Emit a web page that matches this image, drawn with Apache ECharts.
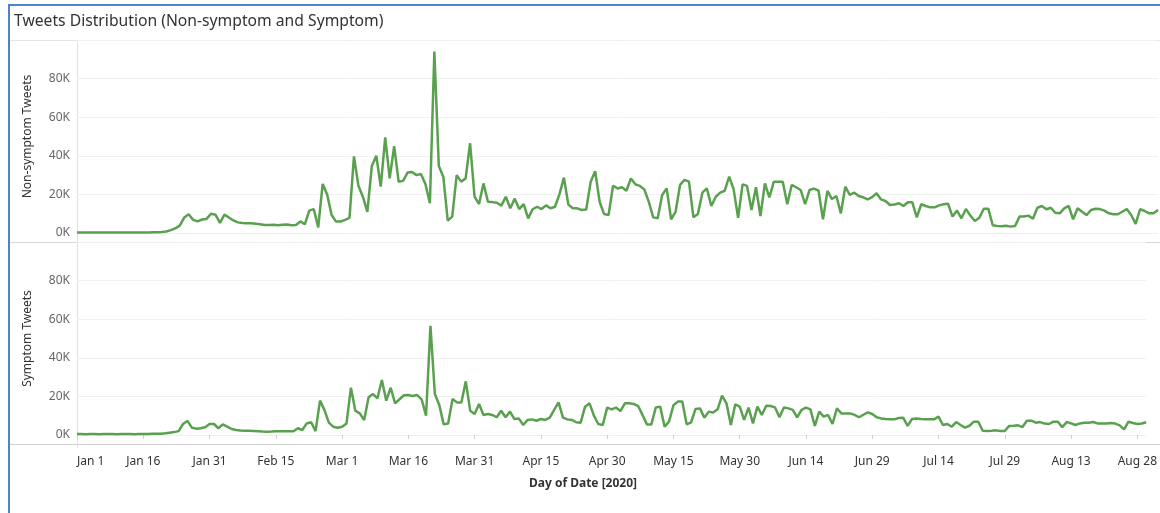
<!DOCTYPE html>
<html>
<head>
<meta charset="utf-8">
<title>Tweets Distribution</title>
<script src="https://cdn.jsdelivr.net/npm/echarts@6/dist/echarts.min.js"></script>
<style>
  html, body { margin: 0; padding: 0; background: #fff; }
  #chart { width: 1160px; height: 513px; }
</style>
</head>
<body>
<div id="chart"></div>
<script>
// daily tweet counts in thousands, starting Jan 1 2020
const nonSymptom = [
  0.3, 0.3, 0.2, 0.3, 0.3, 0.2, 0.3, 0.3, 0.3, 0.2, 0.3, 0.3, 0.3, 0.2, 0.3, 0.3, 0.3, 0.4, 0.4, 0.5,
  0.8, 1.5, 2.4, 3.8, 8.0, 9.7, 6.8, 6.0, 7.0, 7.3,
  10.0, 9.5, 5.2, 9.5, 8.0, 6.5, 5.5, 5.2, 5.0, 5.1,
  4.8, 4.5, 4.2, 4.2, 4.3, 4.0, 4.3, 4.4, 4.0, 4.2,
  6.0, 4.5, 11.6, 12.4, 2.9, 25.4, 20.0, 9.3, 5.9, 5.9,
  6.8, 7.8, 39.7, 24.5, 18.8, 11.0, 34.7, 40.0, 24.0, 49.6,
  28.3, 45.0, 26.6, 27.0, 31.3, 31.6, 30.0, 30.6, 25.4, 15.4,
  94.0, 34.7, 29.2, 6.4, 8.5, 30.0, 26.6, 28.3, 46.5, 18.8,
  15.0, 25.7, 16.2, 16.0, 15.7, 14.2, 18.8, 12.8, 17.8, 12.4,
  15.0, 7.6, 12.3, 13.6, 12.4, 14.3, 12.8, 13.6, 20.0, 28.7,
  14.7, 12.8, 12.8, 11.9, 12.2, 26.6, 32.0, 16.2, 9.8, 9.3,
  24.5, 23.1, 23.7, 21.9, 28.3, 25.2, 24.4, 22.6, 16.2, 8.1,
  7.6, 19.7, 23.1, 7.1, 11.0, 24.9, 27.5, 26.6, 8.1, 9.8,
  20.9, 23.1, 14.0, 18.8, 20.9, 21.9, 29.2, 22.6, 7.9, 25.2,
  24.4, 11.9, 23.7, 8.8, 25.7, 18.5, 26.6, 26.6, 26.6, 14.9,
  24.9, 23.7, 22.3, 14.9, 22.3, 23.0, 21.9, 7.1, 21.8, 17.6,
  19.2, 10.2, 24.0, 19.7, 20.9, 19.2, 18.5, 17.4, 18.6, 20.6,
  17.4, 16.6, 14.5, 14.8, 15.4, 14.0, 15.9, 15.9, 8.1, 14.9,
  14.0, 13.3, 13.3, 14.3, 14.9, 15.2, 8.5, 11.6, 7.6, 12.4,
  9.0, 6.2, 7.9, 12.6, 12.6, 4.0, 3.6, 3.5, 3.8, 3.3,
  3.6, 8.5, 8.5, 9.0, 7.4, 13.1, 14.0, 12.3, 13.1, 10.5,
  10.2, 12.8, 14.0, 7.1, 12.8, 11.0, 9.3, 11.9, 12.6, 12.4,
  11.6, 10.2, 9.7, 9.7, 11.0, 12.4, 9.3, 4.7, 12.4, 11.4,
  10.2, 10.2, 11.9
];

const symptom = [
  0.5, 0.5, 0.4, 0.5, 0.5, 0.4, 0.5, 0.5, 0.5, 0.4, 0.5, 0.5, 0.5, 0.4, 0.5, 0.5, 0.5, 0.6, 0.6, 0.7,
  0.9, 1.2, 1.5, 2.0, 5.7, 7.3, 3.8, 3.3, 3.5, 4.0,
  5.7, 5.7, 3.5, 5.5, 4.3, 3.1, 2.6, 2.3, 2.2, 2.2,
  2.1, 2.0, 1.8, 1.7, 1.8, 2.0, 1.9, 2.0, 1.9, 1.9,
  3.5, 2.6, 6.0, 6.6, 2.0, 17.8, 13.0, 6.4, 4.3, 3.8,
  4.3, 6.0, 24.5, 12.6, 11.2, 7.8, 19.5, 21.2, 19.0, 28.5,
  17.8, 24.5, 16.4, 18.5, 20.6, 20.7, 20.2, 20.7, 18.5, 10.0,
  56.6, 21.2, 15.5, 5.5, 6.0, 18.7, 16.9, 16.9, 27.8, 12.6,
  10.9, 16.1, 10.4, 10.9, 10.4, 9.2, 12.6, 9.2, 12.1, 8.3,
  8.6, 5.2, 7.8, 8.1, 7.4, 8.3, 7.8, 9.0, 13.0, 16.9,
  9.0, 8.1, 7.8, 6.6, 6.4, 14.7, 16.4, 10.0, 5.7, 5.2,
  14.2, 13.3, 14.2, 12.4, 16.4, 16.4, 16.1, 15.0, 10.4, 5.5,
  5.5, 14.2, 14.7, 4.3, 6.9, 15.4, 17.3, 17.3, 5.5, 6.6,
  13.5, 13.8, 9.0, 12.1, 11.6, 13.3, 20.4, 16.4, 5.2, 15.9,
  14.7, 7.8, 14.2, 6.0, 14.7, 10.4, 15.2, 15.0, 14.3, 9.2,
  14.2, 13.8, 13.0, 9.2, 13.0, 14.2, 13.3, 4.7, 12.1, 9.5,
  10.4, 5.7, 13.8, 11.2, 11.2, 11.2, 10.4, 9.2, 10.5, 11.7,
  10.9, 9.2, 8.6, 8.3, 8.2, 8.1, 8.8, 9.0, 4.7, 8.3,
  8.6, 8.3, 8.1, 8.1, 8.1, 9.5, 5.2, 5.7, 4.3, 6.7,
  5.2, 3.8, 4.8, 6.9, 6.9, 2.2, 2.1, 2.2, 2.4, 2.1,
  2.1, 4.7, 4.8, 5.0, 4.1, 7.4, 7.4, 6.4, 6.7, 5.9,
  5.7, 6.9, 6.9, 4.1, 6.7, 6.0, 5.2, 6.0, 6.4, 6.4,
  6.7, 6.0, 5.9, 5.9, 6.2, 5.9, 5.0, 2.9, 6.9, 6.2,
  5.7, 6.0, 6.6
];

// labelled y ticks (thousands)
const yTicks = [0, 20, 40, 60, 80];

// one category per day
const monthNames = ['Jan', 'Feb', 'Mar', 'Apr', 'May', 'Jun', 'Jul', 'Aug', 'Sep'];
const days = [];
for (let i = 0; i < nonSymptom.length; i++) {
  const d = new Date(2020, 0, 1 + i);
  days.push(monthNames[d.getMonth()] + ' ' + d.getDate());
}

const green = '#59a14f';
const font = 'Noto Sans';

function yAxisFor(gridIndex, name) {
  return {
    type: 'value',
    gridIndex: gridIndex,
    min: 0,
    max: 100,
    interval: 20,
    name: name,
    nameLocation: 'middle',
    nameRotate: 90,
    nameGap: 43,
    nameTextStyle: { color: '#333', fontSize: 12, fontFamily: font },
    axisLine: { show: false },
    axisTick: { show: false },
    axisLabel: {
      color: '#666', fontSize: 12, margin: 7, fontFamily: font,
      formatter: v => yTicks.includes(v) ? v + 'K' : ''
    },
    splitLine: { lineStyle: { color: '#f0f0f0', width: 1 } }
  };
}

const chart = echarts.init(document.getElementById('chart'));
chart.setOption({
  animation: false,
  grid: [
    { left: 77, right: 2, top: 40, height: 193 },
    { left: 77, right: 2, top: 242, height: 193 }
  ],
  xAxis: [
    {
      type: 'category', gridIndex: 0, data: days, boundaryGap: false,
      axisLine: { show: false }, axisTick: { show: false }, axisLabel: { show: false },
      splitLine: { show: false }
    },
    {
      type: 'category', gridIndex: 1, data: days, boundaryGap: false, offset: 9,
      axisLine: { show: false },
      axisTick: { show: true, interval: 14, length: 4, lineStyle: { color: '#d0d0d0' } },
      axisLabel: {
        interval: 14, color: '#333', fontSize: 12, margin: 12, fontFamily: font,
        alignMinLabel: 'left'
      },
      splitLine: { show: false }
    }
  ],
  yAxis: [
    yAxisFor(0, 'Non-symptom Tweets'),
    yAxisFor(1, 'Symptom Tweets')
  ],
  series: [
    {
      name: 'Non-symptom Tweets', type: 'line', xAxisIndex: 0, yAxisIndex: 0,
      data: nonSymptom, symbol: 'none',
      lineStyle: { color: green, width: 2.5 }, itemStyle: { color: green }
    },
    {
      name: 'Symptom Tweets', type: 'line', xAxisIndex: 1, yAxisIndex: 1,
      data: symptom, symbol: 'none',
      lineStyle: { color: green, width: 2.5 }, itemStyle: { color: green }
    }
  ],
  graphic: [
    // outer blue frame (left and top edges)
    { type: 'line', shape: { x1: 9, y1: 5, x2: 9, y2: 513 }, style: { stroke: '#4f81cf', lineWidth: 2 } },
    { type: 'line', shape: { x1: 8, y1: 5, x2: 1160, y2: 5 }, style: { stroke: '#4f81cf', lineWidth: 2 } },
    // panel separators
    { type: 'line', shape: { x1: 10, y1: 40.5, x2: 1160, y2: 40.5 }, style: { stroke: '#e6e6e6', lineWidth: 1 } },
    { type: 'line', shape: { x1: 10, y1: 242.5, x2: 1160, y2: 242.5 }, style: { stroke: '#d9d9d9', lineWidth: 1 } },
    { type: 'line', shape: { x1: 10, y1: 444.5, x2: 1160, y2: 444.5 }, style: { stroke: '#d0d0d0', lineWidth: 1 } },
    { type: 'line', shape: { x1: 77.5, y1: 41, x2: 77.5, y2: 448 }, style: { stroke: '#e0e0e0', lineWidth: 1 } },
    {
      type: 'text', left: 14, top: 14,
      style: { text: 'Tweets Distribution (Non-symptom and Symptom)', fill: '#333', fontSize: 15.7, fontFamily: font }
    },
    {
      type: 'text', x: 583, y: 484,
      style: { text: 'Day of Date [2020]', fill: '#333', fontSize: 12, fontWeight: 'bold', fontFamily: font, align: 'center', verticalAlign: 'middle' }
    }
  ]
});
</script>
</body>
</html>
